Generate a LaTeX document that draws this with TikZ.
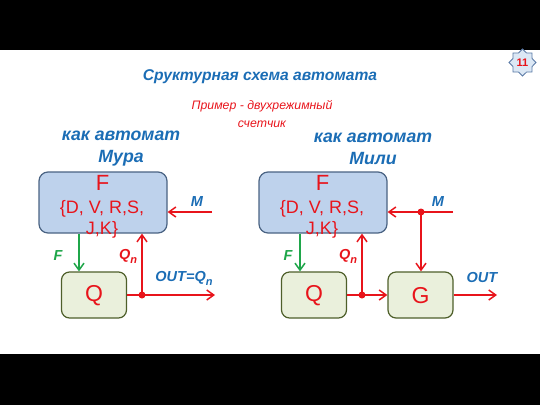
\documentclass[tikz,border=0pt]{standalone}
\usepackage{fontspec}
\setmainfont{Liberation Sans}
\usetikzlibrary{arrows.meta,shapes.geometric,calc}
\definecolor{tblue}{HTML}{1B6DB5}
\definecolor{tred}{HTML}{E8141B}
\definecolor{tgreen}{HTML}{1FA64A}
\definecolor{ffill}{HTML}{BED2EC}
\definecolor{fdraw}{HTML}{4A6383}
\definecolor{qfill}{HTML}{EAF0DC}
\definecolor{qdraw}{HTML}{4E5F2A}
\definecolor{starfill}{HTML}{DCE8F5}
\definecolor{stardraw}{HTML}{5A7AA6}
\newcommand{\sbn}{\raisebox{-4pt}{\fontsize{11}{11}\selectfont n}}
\tikzset{
  fbox/.style={draw=fdraw,fill=ffill,line width=1.2pt,rounded corners=9pt,inner sep=0pt},
  qbox/.style={draw=qdraw,fill=qfill,line width=1.2pt,rounded corners=8pt,inner sep=0pt},
  redline/.style={draw=tred,line width=1.5pt},
  redarrow/.style={redline,-{Straight Barb[length=7pt,width=10pt,line width=1.5pt]}},
  greenarrow/.style={draw=tgreen,line width=1.5pt,-{Straight Barb[length=7pt,width=10pt,line width=1.5pt]}},
  dot/.style={circle,fill=tred,inner sep=0pt,minimum size=7pt},
  lbl/.style={font=\fontsize{14.5}{14.5}\selectfont\bfseries\itshape},
  head/.style={font=\fontsize{17.7}{22}\selectfont\bfseries\itshape,text=tblue,align=center},
  bigl/.style={font=\fontsize{23}{23}\selectfont,text=tred},
  setl/.style={font=\fontsize{18}{20.5}\selectfont,text=tred,align=center},
}
\begin{document}
\begin{tikzpicture}[x=1pt,y=-1pt]
\useasboundingbox (0,0) rectangle (540,405);
\fill[black] (0,0) rectangle (540,50);
\fill[black] (0,354) rectangle (540,405);
% titles
\node[font=\fontsize{15.6}{15.6}\selectfont\bfseries\itshape,text=tblue] (title) at (260,77) {Сруктурная схема автомата};
\node[font=\fontsize{12.3}{18}\selectfont\itshape,text=tred,align=center] (sub) at (262,114) {Пример - двухрежимный\\счетчик};
\node[head] (hl) at (121,149) {как автомат\\Мура};
\node[head] (hr) at (373,149) {как автомат\\Мили};
% star badge
\node[star,star points=8,star point ratio=1.3,minimum size=27pt,draw=stardraw,fill=starfill,line width=0.8pt,inner sep=0pt] (badge) at (522.5,62.5) {};
\node[font=\fontsize{11}{11}\selectfont\bfseries,text=tred] (badgetxt) at (522.5,63) {11};
% ---------- left (Moore) ----------
\node[fbox,minimum width=128pt,minimum height=61pt] (F1) at (103,202.5) {};
\node[bigl,font=\fontsize{22}{22}\selectfont] (F1t) at (102.5,183) {F};
\node[setl] (F1s) at (102,219.5) {\{D, V, R,S,\\J,K\}};
\node[qbox,minimum width=65pt,minimum height=46pt] (Q1) at (94,295) {};
\node[bigl] (Q1t) at (94,296) {Q};
\draw[greenarrow] (F1.south -| 79,0) -- (Q1.north -| 79,0);
\node[lbl,text=tgreen] (lf1) at (58,256) {F};
\coordinate (o1) at (215,295);
\node[dot] (d1) at (142,295) {};
\draw[redarrow] (Q1.east |- 0,295) -- (o1);
\draw[redarrow] (d1.center) -- (F1.south -| d1);
\node[lbl,text=tred] (lq1) at (128,256) {Q\sbn};
\node[lbl,text=tblue] (lo1) at (184,278) {OUT=Q\sbn};
\coordinate (m1) at (212,212);
\draw[redarrow] (m1) -- (F1.east |- m1);
\node[lbl,text=tblue] (lm1) at (197,202) {M};
% ---------- right (Mealy) ----------
\node[fbox,minimum width=128pt,minimum height=61pt] (F2) at (323,202.5) {};
\node[bigl,font=\fontsize{22}{22}\selectfont] (F2t) at (322.5,183) {F};
\node[setl] (F2s) at (322,219.5) {\{D, V, R,S,\\J,K\}};
\node[qbox,minimum width=65pt,minimum height=46pt] (Q2) at (314,295) {};
\node[bigl] (Q2t) at (314,296) {Q};
\node[qbox,minimum width=65pt,minimum height=46pt] (G2) at (420.5,295) {};
\node[bigl] (G2t) at (420.5,296) {G};
\draw[greenarrow] (F2.south -| 300,0) -- (Q2.north -| 300,0);
\node[lbl,text=tgreen] (lf2) at (288,256) {F};
\node[dot] (d2) at (362,295) {};
\draw[redarrow] (Q2.east |- 0,295) -- (G2.west |- 0,295);
\draw[redarrow] (d2.center) -- (F2.south -| d2);
\node[lbl,text=tred] (lq2) at (348,256) {Q\sbn};
\coordinate (m2) at (453,212);
\node[dot] (d3) at (421,212) {};
\draw[redarrow] (m2) -- (F2.east |- m2);
\draw[redarrow] (d3.center) -- (G2.north -| d3);
\node[lbl,text=tblue] (lm2) at (438,202) {M};
\coordinate (o2) at (497,295);
\draw[redarrow] (G2.east |- 0,295) -- (o2);
\node[lbl,text=tblue] (lo2) at (482,278) {OUT};
\end{tikzpicture}
\end{document}
